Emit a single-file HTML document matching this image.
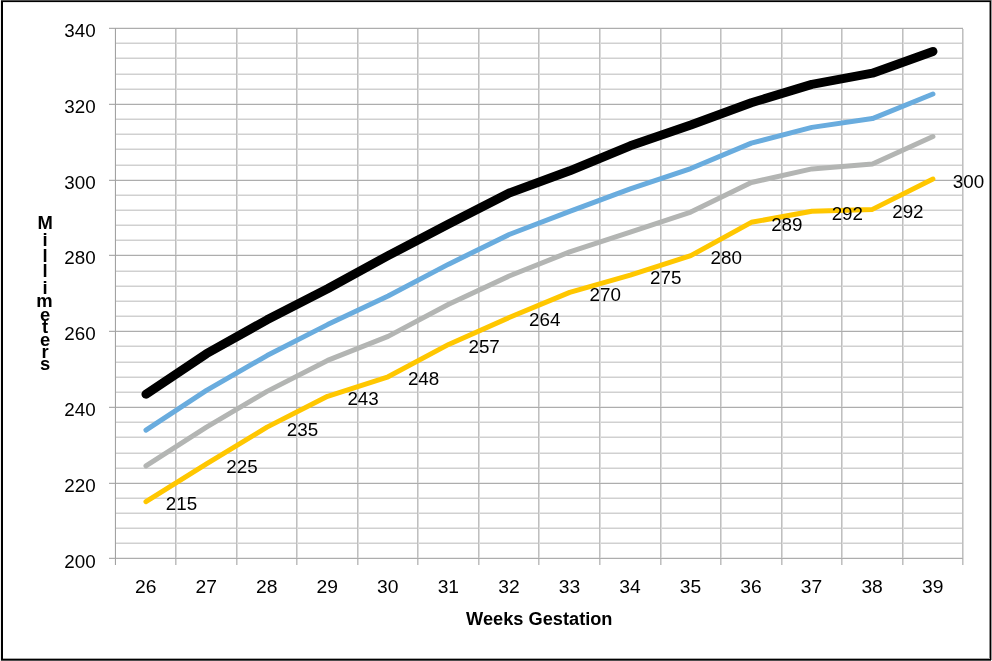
<!DOCTYPE html>
<html lang="en"><head><meta charset="utf-8"><title>Weeks Gestation chart</title>
<style>
html,body{margin:0;padding:0;background:#fff;}
body{width:992px;height:661px;overflow:hidden;position:relative;font-family:"Liberation Sans",sans-serif;}
svg{position:absolute;left:0;top:0;display:block;}
text{font-family:"Liberation Sans",sans-serif;fill:#000;}
.t{font-size:19.3px;}
.b{font-size:18.4px;font-weight:bold;}
</style></head><body>
<svg width="992" height="661" viewBox="0 0 992 661">
<rect x="0" y="0" width="992" height="661" fill="#fff"/>
<g shape-rendering="crispEdges">
<rect x="0" y="0" width="1" height="661" fill="#eeeeee"/>
<rect x="1" y="0" width="990" height="1" fill="#4d4d4d"/>
<rect x="1" y="1" width="990" height="1" fill="#000"/>
<rect x="3" y="2" width="986" height="1" fill="#e6e6e6"/>
<rect x="1" y="1" width="2" height="659" fill="#000"/>
<rect x="989" y="2" width="1" height="657" fill="#8c8c8c"/>
<rect x="990" y="1" width="1" height="659" fill="#000"/>
<rect x="991" y="0" width="1" height="660" fill="#999"/>
<rect x="3" y="658" width="987" height="1" fill="#a6a6a6"/>
<rect x="1" y="659" width="990" height="1" fill="#000"/>
<rect x="1" y="660" width="990" height="1" fill="#4d4d4d"/>
</g>
<g shape-rendering="crispEdges">
<g fill="#e8e8e8">
<rect x="116" y="42" width="847" height="1"/>
<rect x="116" y="57" width="847" height="1"/>
<rect x="116" y="73" width="847" height="1"/>
<rect x="116" y="88" width="847" height="1"/>
<rect x="116" y="118" width="847" height="1"/>
<rect x="116" y="133" width="847" height="1"/>
<rect x="116" y="148" width="847" height="1"/>
<rect x="116" y="164" width="847" height="1"/>
<rect x="116" y="194" width="847" height="1"/>
<rect x="116" y="209" width="847" height="1"/>
<rect x="116" y="224" width="847" height="1"/>
<rect x="116" y="239" width="847" height="1"/>
<rect x="116" y="270" width="847" height="1"/>
<rect x="116" y="285" width="847" height="1"/>
<rect x="116" y="300" width="847" height="1"/>
<rect x="116" y="315" width="847" height="1"/>
<rect x="116" y="345" width="847" height="1"/>
<rect x="116" y="361" width="847" height="1"/>
<rect x="116" y="376" width="847" height="1"/>
<rect x="116" y="391" width="847" height="1"/>
<rect x="116" y="421" width="847" height="1"/>
<rect x="116" y="436" width="847" height="1"/>
<rect x="116" y="452" width="847" height="1"/>
<rect x="116" y="467" width="847" height="1"/>
<rect x="116" y="497" width="847" height="1"/>
<rect x="116" y="512" width="847" height="1"/>
<rect x="116" y="527" width="847" height="1"/>
<rect x="116" y="542" width="847" height="1"/>
</g>
<g fill="#d0d0d0">
<rect x="116" y="43" width="847" height="1"/>
<rect x="116" y="58" width="847" height="1"/>
<rect x="116" y="74" width="847" height="1"/>
<rect x="116" y="89" width="847" height="1"/>
<rect x="116" y="119" width="847" height="1"/>
<rect x="116" y="134" width="847" height="1"/>
<rect x="116" y="149" width="847" height="1"/>
<rect x="116" y="165" width="847" height="1"/>
<rect x="116" y="195" width="847" height="1"/>
<rect x="116" y="210" width="847" height="1"/>
<rect x="116" y="225" width="847" height="1"/>
<rect x="116" y="240" width="847" height="1"/>
<rect x="116" y="271" width="847" height="1"/>
<rect x="116" y="286" width="847" height="1"/>
<rect x="116" y="301" width="847" height="1"/>
<rect x="116" y="316" width="847" height="1"/>
<rect x="116" y="346" width="847" height="1"/>
<rect x="116" y="362" width="847" height="1"/>
<rect x="116" y="377" width="847" height="1"/>
<rect x="116" y="392" width="847" height="1"/>
<rect x="116" y="422" width="847" height="1"/>
<rect x="116" y="437" width="847" height="1"/>
<rect x="116" y="453" width="847" height="1"/>
<rect x="116" y="468" width="847" height="1"/>
<rect x="116" y="498" width="847" height="1"/>
<rect x="116" y="513" width="847" height="1"/>
<rect x="116" y="528" width="847" height="1"/>
<rect x="116" y="543" width="847" height="1"/>
</g>
<g fill="#ebebeb">
<rect x="109" y="27" width="854" height="1"/>
<rect x="109" y="103" width="854" height="1"/>
<rect x="109" y="179" width="854" height="1"/>
<rect x="109" y="254" width="854" height="1"/>
<rect x="109" y="330" width="854" height="1"/>
<rect x="109" y="406" width="854" height="1"/>
<rect x="109" y="482" width="854" height="1"/>
<rect x="109" y="557" width="854" height="1"/>
</g>
<g fill="#dbdbdb">
<rect x="176" y="29" width="1" height="536"/>
<rect x="237" y="29" width="1" height="536"/>
<rect x="297" y="29" width="1" height="536"/>
<rect x="358" y="29" width="1" height="536"/>
<rect x="418" y="29" width="1" height="536"/>
<rect x="479" y="29" width="1" height="536"/>
<rect x="539" y="29" width="1" height="536"/>
<rect x="600" y="29" width="1" height="536"/>
<rect x="661" y="29" width="1" height="536"/>
<rect x="721" y="29" width="1" height="536"/>
<rect x="782" y="29" width="1" height="536"/>
<rect x="842" y="29" width="1" height="536"/>
<rect x="903" y="29" width="1" height="536"/>
<rect x="963" y="29" width="1" height="536"/>
</g>
<g fill="#bfbfbf">
<rect x="175" y="29" width="1" height="536"/>
<rect x="236" y="29" width="1" height="536"/>
<rect x="296" y="29" width="1" height="536"/>
<rect x="357" y="29" width="1" height="536"/>
<rect x="417" y="29" width="1" height="536"/>
<rect x="478" y="29" width="1" height="536"/>
<rect x="538" y="29" width="1" height="536"/>
<rect x="599" y="29" width="1" height="536"/>
<rect x="660" y="29" width="1" height="536"/>
<rect x="720" y="29" width="1" height="536"/>
<rect x="781" y="29" width="1" height="536"/>
<rect x="841" y="29" width="1" height="536"/>
<rect x="902" y="29" width="1" height="536"/>
<rect x="962" y="29" width="1" height="536"/>
</g>
<g fill="#adadad">
<rect x="109" y="28" width="854" height="1"/>
<rect x="109" y="104" width="854" height="1"/>
<rect x="109" y="180" width="854" height="1"/>
<rect x="109" y="255" width="854" height="1"/>
<rect x="109" y="331" width="854" height="1"/>
<rect x="109" y="407" width="854" height="1"/>
<rect x="109" y="483" width="854" height="1"/>
<rect x="109" y="558" width="854" height="1"/>
</g>
</g>
<line x1="115.45" y1="28" x2="115.45" y2="565" stroke="#a2a2a2" stroke-width="1.1"/>
<polyline points="145.97,501.71 206.50,463.86 267.04,427.14 327.58,396.28 388.11,376.79 448.65,344.42 509.18,317.54 569.72,292.36 630.26,275.14 690.79,255.64 751.33,222.33 811.86,211.20 872.40,209.38 932.94,179.10" fill="none" stroke="#ffc700" stroke-width="5" stroke-linecap="round" stroke-linejoin="round"/>
<polyline points="145.97,465.88 206.50,427.14 267.04,391.36 327.58,360.44 388.11,336.40 448.65,304.29 509.18,276.02 569.72,251.86 630.26,232.05 690.79,212.11 751.33,182.45 811.86,168.91 872.40,163.98 932.94,136.53" fill="none" stroke="#b3b5b3" stroke-width="5" stroke-linecap="round" stroke-linejoin="round"/>
<polyline points="145.97,430.04 206.50,390.41 267.04,355.59 327.58,324.61 388.11,296.02 448.65,264.16 509.18,234.51 569.72,211.35 630.26,188.95 690.79,168.57 751.33,143.14 811.86,127.38 872.40,118.57 932.94,93.97" fill="none" stroke="#69acde" stroke-width="5" stroke-linecap="round" stroke-linejoin="round"/>
<polyline points="145.97,394.20 206.50,353.69 267.04,319.81 327.58,288.77 388.11,255.64 448.65,224.03 509.18,192.99 569.72,170.84 630.26,145.86 690.79,125.04 751.33,102.70 811.86,84.34 872.40,73.17 932.94,51.40" fill="none" stroke="#000" stroke-width="9" stroke-linecap="round" stroke-linejoin="round"/>
<text class="t" transform="translate(95.60,568.10) scale(0.975,0.94)" text-anchor="end">200</text>
<text class="t" transform="translate(95.60,491.59) scale(0.975,0.94)" text-anchor="end">220</text>
<text class="t" transform="translate(95.60,415.87) scale(0.975,0.94)" text-anchor="end">240</text>
<text class="t" transform="translate(95.60,340.16) scale(0.975,0.94)" text-anchor="end">260</text>
<text class="t" transform="translate(95.60,264.44) scale(0.975,0.94)" text-anchor="end">280</text>
<text class="t" transform="translate(95.60,188.73) scale(0.975,0.94)" text-anchor="end">300</text>
<text class="t" transform="translate(95.60,113.01) scale(0.975,0.94)" text-anchor="end">320</text>
<text class="t" transform="translate(95.60,37.30) scale(0.975,0.94)" text-anchor="end">340</text>
<text class="t" transform="translate(145.67,592.80) scale(1,0.94)" text-anchor="middle">26</text>
<text class="t" transform="translate(206.20,592.80) scale(1,0.94)" text-anchor="middle">27</text>
<text class="t" transform="translate(266.74,592.80) scale(1,0.94)" text-anchor="middle">28</text>
<text class="t" transform="translate(327.28,592.80) scale(1,0.94)" text-anchor="middle">29</text>
<text class="t" transform="translate(387.81,592.80) scale(1,0.94)" text-anchor="middle">30</text>
<text class="t" transform="translate(448.35,592.80) scale(1,0.94)" text-anchor="middle">31</text>
<text class="t" transform="translate(508.88,592.80) scale(1,0.94)" text-anchor="middle">32</text>
<text class="t" transform="translate(569.42,592.80) scale(1,0.94)" text-anchor="middle">33</text>
<text class="t" transform="translate(629.96,592.80) scale(1,0.94)" text-anchor="middle">34</text>
<text class="t" transform="translate(690.49,592.80) scale(1,0.94)" text-anchor="middle">35</text>
<text class="t" transform="translate(751.03,592.80) scale(1,0.94)" text-anchor="middle">36</text>
<text class="t" transform="translate(811.56,592.80) scale(1,0.94)" text-anchor="middle">37</text>
<text class="t" transform="translate(872.10,592.80) scale(1,0.94)" text-anchor="middle">38</text>
<text class="t" transform="translate(932.64,592.80) scale(1,0.94)" text-anchor="middle">39</text>
<text class="t" transform="translate(165.77,510.41) scale(0.975,0.94)" text-anchor="start">215</text>
<text class="t" transform="translate(226.30,472.56) scale(0.975,0.94)" text-anchor="start">225</text>
<text class="t" transform="translate(286.84,435.84) scale(0.975,0.94)" text-anchor="start">235</text>
<text class="t" transform="translate(347.38,404.98) scale(0.975,0.94)" text-anchor="start">243</text>
<text class="t" transform="translate(407.91,385.49) scale(0.975,0.94)" text-anchor="start">248</text>
<text class="t" transform="translate(468.45,353.12) scale(0.975,0.94)" text-anchor="start">257</text>
<text class="t" transform="translate(528.98,326.24) scale(0.975,0.94)" text-anchor="start">264</text>
<text class="t" transform="translate(589.52,301.06) scale(0.975,0.94)" text-anchor="start">270</text>
<text class="t" transform="translate(650.06,283.84) scale(0.975,0.94)" text-anchor="start">275</text>
<text class="t" transform="translate(710.59,264.34) scale(0.975,0.94)" text-anchor="start">280</text>
<text class="t" transform="translate(771.13,231.03) scale(0.975,0.94)" text-anchor="start">289</text>
<text class="t" transform="translate(831.66,219.90) scale(0.975,0.94)" text-anchor="start">292</text>
<text class="t" transform="translate(892.20,218.08) scale(0.975,0.94)" text-anchor="start">292</text>
<text class="t" transform="translate(952.74,187.80) scale(0.975,0.94)" text-anchor="start">300</text>
<text class="b" transform="translate(539.30,625.20) scale(0.99,1)" text-anchor="middle">Weeks Gestation</text>
<text class="b" text-anchor="middle" x="45.2 45.0 45.0 45.0 45.0 44.5 45.0 45.0 45.0 45.0 45.0" y="228.8 245.5 261.5 277.2 294.4 306.9 320.7 332.9 346.4 357.6 369.8">Millimeters</text>
</svg>
</body></html>
